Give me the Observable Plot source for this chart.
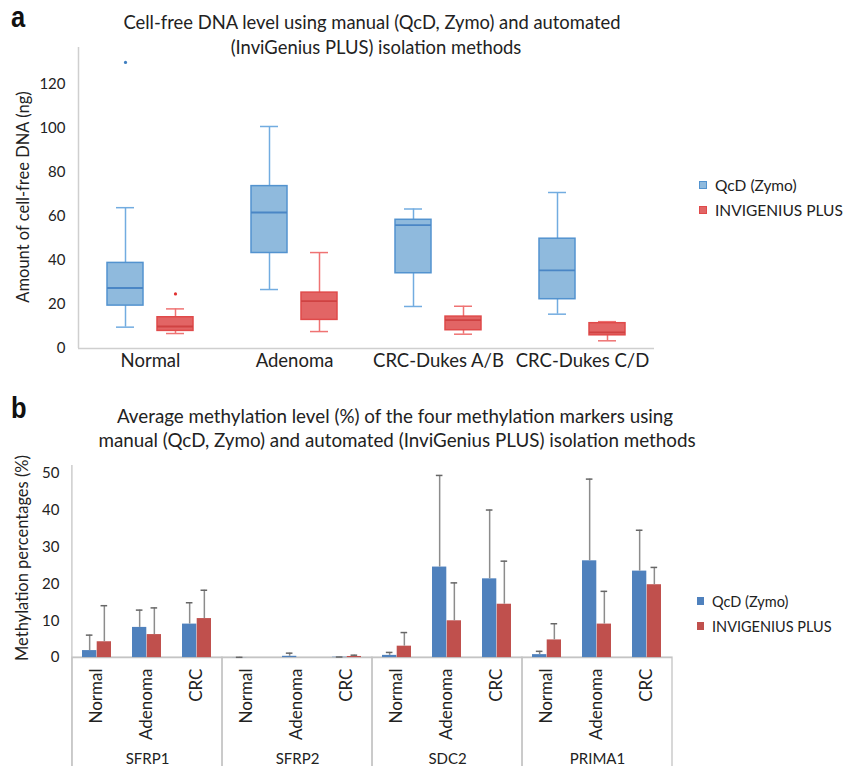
<!DOCTYPE html>
<html><head><meta charset="utf-8">
<script src="https://cdn.jsdelivr.net/npm/d3@7"></script>
<script src="https://cdn.jsdelivr.net/npm/@observablehq/plot@0.6"></script>
<style>
body{margin:0;background:#fff;}
#root{position:relative;width:860px;height:766px;overflow:hidden;font-family:Lato,"Open Sans",sans-serif;color:#222;}
.abs{position:absolute;white-space:nowrap;}
.panel{position:absolute;left:0;}
.tl{position:absolute;white-space:nowrap;text-align:center;width:800px;line-height:20px;}
.lab{position:absolute;font-family:"Liberation Sans",Arial,sans-serif;font-weight:bold;font-size:30px;line-height:30px;transform:scaleX(0.85);transform-origin:left top;color:#111;}
.ylab{position:absolute;white-space:nowrap;font-size:16.5px;transform:translate(-50%,-50%) rotate(-90deg);}
.leg{position:absolute;white-space:nowrap;display:flex;align-items:center;}
.sw{display:inline-block;box-sizing:border-box;margin-right:8px;}
</style></head><body><div id="root"></div>
<script>
// ---------- Panel a data (box plot summaries, ng) ----------
const categoriesA = ["Normal", "Adenoma", "CRC-Dukes A/B", "CRC-Dukes C/D"];
const methods = ["QcD (Zymo)", "INVIGENIUS PLUS"];
const qcdMin    = [9.7, 26.8, 19.1, 15.6];
const qcdQ1     = [19.5, 43.4, 34.2, 22.4];
const qcdMedian = [27.5, 61.8, 56.1, 35.5];
const qcdQ3     = [38.9, 73.8, 58.5, 49.9];
const qcdMax    = [64.0, 100.9, 63.4, 70.9];
const invMin    = [6.8, 7.7, 6.5, 3.5];
const invQ1     = [8.0, 13.0, 8.3, 6.0];
const invMedian = [10.0, 21.5, 12.9, 7.3];
const invQ3     = [14.2, 25.4, 14.5, 11.5];
const invMax    = [18.0, 43.6, 19.2, 12.2];
const outlierCategory = ["Normal", "Normal"];
const outlierMethod   = ["QcD (Zymo)", "INVIGENIUS PLUS"];
const outlierValue    = [130, 24.8];
const ticksA = [0, 20, 40, 60, 80, 100, 120];

// ---------- Panel b data (mean methylation %, with SD) ----------
const markers = ["SFRP1", "SFRP2", "SDC2", "PRIMA1"];
const groups = ["Normal", "Adenoma", "CRC"];
const qcdMean = [[1.9, 8.2, 9.1], [0.02, 0.35, 0.1], [0.6, 24.6, 21.4], [0.8, 26.3, 23.5]];
const qcdSd   = [[4.2, 4.7, 5.8], [0.05, 0.85, 0.05], [0.8, 24.9, 18.7], [0.9, 22.2, 11.1]];
const invMean = [[4.3, 6.25, 10.6], [0, 0, 0.3], [3.1, 10.0, 14.5], [4.8, 9.1, 19.8]];
const invSd   = [[9.8, 7.25, 7.7], [0, 0, 0.35], [3.7, 10.3, 11.7], [4.4, 8.9, 4.7]];
const ticksB = [0, 10, 20, 30, 40, 50];

// ---------- build tables ----------
const boxRows = categoriesA.flatMap((c, i) => [
  {category: c, method: methods[0], min: qcdMin[i], q1: qcdQ1[i], median: qcdMedian[i], q3: qcdQ3[i], max: qcdMax[i]},
  {category: c, method: methods[1], min: invMin[i], q1: invQ1[i], median: invMedian[i], q3: invQ3[i], max: invMax[i]}
]);
const outliers = outlierValue.map((v, i) => ({category: outlierCategory[i], method: outlierMethod[i], value: v}));

const barRows = markers.flatMap((m, i) => groups.map((g, j) => ({
  marker: m, group: g, qcd: qcdMean[i][j], qcdSd: qcdSd[i][j], inv: invMean[i][j], invSd: invSd[i][j]
})));

const styleA = {
  [methods[0]]: {fill: "#8fbadd", stroke: "#5393cf", whisker: "#72ace0", median: "#4a86c5", dot: "#3f7fc0"},
  [methods[1]]: {fill: "#e26565", stroke: "#e04a4a", whisker: "#ef7373", median: "#cf4242", dot: "#e03030"}
};
const colorsB = {qcd: "#4f81bd", inv: "#c0504d", err: "#8c8c8c"};

const root = document.getElementById("root");
const font = "Lato, 'Open Sans', sans-serif";

// ---------- Panel a ----------
const yMaxA = 136.8;
const marksA = [
  Plot.ruleY([0], {stroke: "#cfcfcf", strokeWidth: 1.5}),
  Plot.ruleX([methods[0]], {fx: () => categoriesA[0], x: d => d, dx: -47, y1: 0, y2: yMaxA, stroke: "#cfcfcf", strokeWidth: 1.5})
];
for (const m of methods) {
  const rows = boxRows.filter(d => d.method === m);
  const s = styleA[m];
  marksA.push(
    Plot.ruleX(rows, {fx: "category", x: "method", y1: "min", y2: "max", stroke: s.whisker, strokeWidth: 1.5}),
    Plot.tickY(rows, {fx: "category", x: "method", y: "min", stroke: s.whisker, strokeWidth: 1.5, insetLeft: 9, insetRight: 9}),
    Plot.tickY(rows, {fx: "category", x: "method", y: "max", stroke: s.whisker, strokeWidth: 1.5, insetLeft: 9, insetRight: 9}),
    Plot.barY(rows, {fx: "category", x: "method", y1: "q1", y2: "q3", fill: s.fill, stroke: s.stroke, strokeWidth: 1.5}),
    Plot.tickY(rows, {fx: "category", x: "method", y: "median", stroke: s.median, strokeWidth: 1.8}),
    Plot.dot(outliers.filter(d => d.method === m), {fx: "category", x: "method", y: "value", r: 1.6, fill: s.dot, stroke: "none"})
  );
}
marksA.push(
  Plot.axisY({ticks: ticksA, tickSize: 0, tickPadding: 13, fontSize: 15, label: null}),
  Plot.axisFx({anchor: "bottom", tickSize: 0, tickPadding: 5, fontSize: 18.5, label: null})
);
const chartA = Plot.plot({
  width: 860, height: 385,
  marginLeft: 77, marginRight: 205, marginTop: 47, marginBottom: 37,
  style: {fontFamily: font, color: "#222", background: "transparent"},
  fx: {domain: categoriesA, padding: 0},
  x: {domain: methods, paddingInner: 0.287, paddingOuter: 0.574, axis: null},
  y: {domain: [0, yMaxA]},
  marks: marksA
});
chartA.classList.add("panel");
chartA.style.top = "0px";
root.appendChild(chartA);

// ---------- Panel b ----------
const yMinB = -29.6, yMaxB = 52.2;
const half = 14.7, off = 7.35, capInset = 11.2;
const chartB = Plot.plot({
  width: 860, height: 311,
  marginLeft: 71, marginRight: 187, marginTop: 10, marginBottom: 0,
  style: {fontFamily: font, color: "#222", background: "transparent"},
  fx: {domain: markers, padding: 0, axis: null},
  x: {domain: groups, paddingInner: 0.414, paddingOuter: 0.207, axis: null},
  y: {domain: [yMinB, yMaxB]},
  marks: [
    Plot.barY(markers, {fx: d => d, y1: yMinB - 6, y2: 0, fill: "none", stroke: "#c4c4c4", strokeWidth: 1.3}),
    Plot.ruleX([groups[0]], {fx: () => markers[0], x: d => d, dx: -25.1, y1: yMinB, y2: yMaxB, stroke: "#c4c4c4", strokeWidth: 1.3}),
    Plot.ruleY([0], {stroke: "#c4c4c4", strokeWidth: 1.3}),
    Plot.barY(barRows, {fx: "marker", x: "group", y1: 0, y2: "qcd", fill: colorsB.qcd, insetRight: half}),
    Plot.barY(barRows, {fx: "marker", x: "group", y1: 0, y2: "inv", fill: colorsB.inv, insetLeft: half}),
    Plot.ruleX(barRows.filter(d => d.qcdSd > 0), {fx: "marker", x: "group", y1: "qcd", y2: d => d.qcd + d.qcdSd, dx: -off, stroke: colorsB.err, strokeWidth: 1.5}),
    Plot.tickY(barRows.filter(d => d.qcdSd > 0), {fx: "marker", x: "group", y: d => d.qcd + d.qcdSd, dx: -off, insetLeft: capInset, insetRight: capInset, stroke: "#666", strokeWidth: 1.5}),
    Plot.ruleX(barRows.filter(d => d.invSd > 0), {fx: "marker", x: "group", y1: "inv", y2: d => d.inv + d.invSd, dx: off, stroke: colorsB.err, strokeWidth: 1.5}),
    Plot.tickY(barRows.filter(d => d.invSd > 0), {fx: "marker", x: "group", y: d => d.inv + d.invSd, dx: off, insetLeft: capInset, insetRight: capInset, stroke: "#666", strokeWidth: 1.5}),
    Plot.text(barRows, {fx: "marker", x: "group", y: 0, text: "group", rotate: -90, textAnchor: "end", lineAnchor: "middle", dy: 11, fontSize: 17, fill: "#222"}),
    Plot.text(markers, {fx: d => d, text: d => d, frameAnchor: "bottom", lineAnchor: "bottom", dy: -3, fontSize: 15, fill: "#222"}),
    Plot.axisY({ticks: ticksB, tickSize: 0, tickPadding: 13, fontSize: 15, label: null})
  ]
});
chartB.classList.add("panel");
chartB.style.top = "455px";
root.appendChild(chartB);

// ---------- HTML text: panel labels, titles, axis labels, legends ----------
function add(cls, html, css) {
  const el = document.createElement("div");
  el.className = cls;
  el.innerHTML = html;
  Object.assign(el.style, css);
  root.appendChild(el);
  return el;
}
add("lab", "a", {left: "11px", top: "2px"});
add("tl", "Cell-free DNA level using manual (QcD, Zymo) and automated", {left: "-28px", top: "12px", fontSize: "18.4px"});
add("tl", "(InviGenius PLUS) isolation methods", {left: "-24px", top: "37px", fontSize: "18.4px"});
add("ylab", "Amount of cell-free DNA (ng)", {left: "23px", top: "197px"});

add("lab", "b", {left: "11px", top: "393px"});
add("tl", "Average methylation level (%) of the four methylation markers using", {left: "-5px", top: "406px", fontSize: "18.8px"});
add("tl", "manual (QcD, Zymo) and automated (InviGenius PLUS) isolation methods", {left: "-3px", top: "430px", fontSize: "18.8px"});
add("ylab", "Methylation percentages (%)", {left: "22px", top: "558px"});

function legend(items, x, y0, dy, fs, w, h) {
  items.forEach((it, i) => {
    add("leg", `<span class="sw" style="width:${w}px;height:${h}px;background:${it.fill};border:1px solid ${it.stroke}"></span><span>${it.label}</span>`,
      {left: x + "px", top: (y0 + i * dy - 10) + "px", height: "20px", fontSize: fs + "px"});
  });
}
legend(methods.map(m => ({label: m, fill: styleA[m].fill, stroke: styleA[m].stroke})), 699, 185, 24.5, 15.5, 8, 8);
legend([{label: methods[0], fill: colorsB.qcd, stroke: colorsB.qcd}, {label: methods[1], fill: colorsB.inv, stroke: colorsB.inv}], 697, 601, 25, 14.5, 7, 8);
</script></body></html>
